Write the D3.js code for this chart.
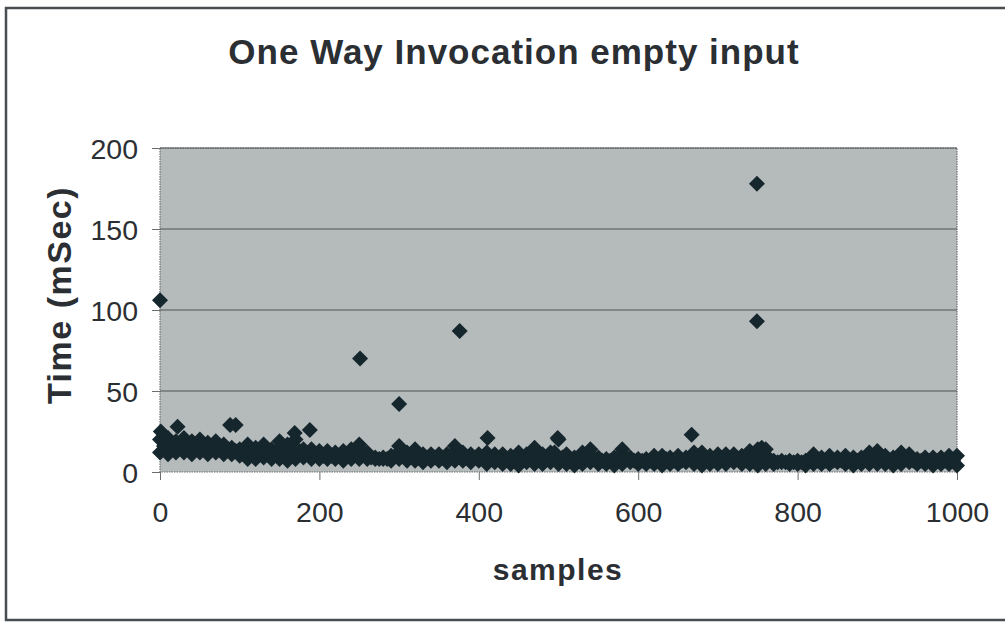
<!DOCTYPE html>
<html>
<head>
<meta charset="utf-8">
<script src="https://cdn.jsdelivr.net/npm/d3@7"></script>
<style>
  body { margin: 0; background: #fff; }
  text { font-family: "Liberation Sans", Arial, sans-serif; fill: #2b2f33; }
</style>
</head>
<body>
<div id="chart"></div>
<script>
// Chart data
const title = 'One Way Invocation empty input';
const xLabel = 'samples';
const yLabel = 'Time (mSec)';
const xTicks = [0, 200, 400, 600, 800, 1000];
const yTicks = [0, 50, 100, 150, 200];

// dense band: upper edge, samples 0,10,...,1000
const topTimes = [20, 21, 19, 21, 19, 20, 18, 19, 17, 15,
  14, 17, 15, 17, 14, 19, 17, 20, 14, 14,
  13, 13, 12, 13, 14, 17, 12, 9, 9, 10,
  16, 12, 14, 11, 11, 11, 11, 16, 12, 11,
  11, 12, 11, 11, 10, 12, 11, 15, 11, 12,
  20, 11, 9, 12, 14, 9, 8, 9, 14, 9,
  8, 8, 10, 10, 9, 10, 9, 12, 12, 10,
  11, 11, 11, 10, 13, 14, 14, 7, 7, 7,
  7, 7, 11, 9, 10, 9, 10, 9, 9, 12,
  13, 10, 9, 12, 11, 8, 9, 9, 9, 10, 10];

// dense band: middle, samples 5,15,...,995
const midTimes = [16, 16, 16, 16, 15, 16, 15, 15, 14, 13,
  12, 12, 12, 12, 12, 13, 13, 13, 11, 11,
  10, 10, 10, 10, 12, 12, 9, 8, 8, 10,
  10, 10, 9, 9, 9, 9, 10, 10, 9, 9,
  8, 8, 8, 8, 8, 8, 10, 9, 8, 12,
  9, 7, 8, 9, 8, 7, 7, 9, 9, 7,
  7, 7, 7, 8, 7, 7, 8, 8, 8, 8,
  8, 8, 8, 9, 9, 10, 8, 6, 6, 6,
  6, 8, 7, 7, 7, 7, 7, 7, 8, 9,
  8, 7, 8, 8, 7, 7, 7, 7, 7, 7];

// dense band: lower edge, samples 0,10,...,1000
const lowTimes = [12, 11, 12, 12, 11, 12, 11, 12, 11, 11, 10,
  8, 8, 9, 8, 8, 7, 8, 9, 8, 8, 8, 8, 7, 8, 8, 8, 8, 8, 7, 8,
  7, 7, 6, 7, 7, 6, 7, 7, 6, 7,
  5, 6, 5, 5, 4, 6, 5, 5, 6, 5,
  5, 4, 5, 6, 5, 5, 4, 5, 6, 5,
  5, 5, 4, 5, 5, 6, 5, 4, 5, 5,
  5, 6, 5, 5, 4, 5, 5, 6, 5, 5,
  4, 5, 5, 5, 6, 5, 4, 5, 5, 5,
  5, 4, 5, 6, 5, 5, 4, 5, 5, 4];

// isolated points
const outlierSamples = [0, 1, 22, 88, 95, 169, 188, 251, 300, 376, 411, 499, 667, 749, 749, 755];
const outlierTimes = [106, 25, 28, 29, 29, 24, 26, 70, 42, 87, 21, 21, 23, 178, 93, 15];

const w = 1005;
const h = 623;
const margin = { top: 148, right: 48, bottom: 151, left: 160 };

const points = [];
topTimes.forEach((t, i) => points.push({ s: i * 10, t }));
lowTimes.forEach((t, i) => points.push({ s: i * 10, t }));
midTimes.forEach((t, i) => points.push({ s: 5 + i * 10, t }));
outlierSamples.forEach((s, i) => points.push({ s, t: outlierTimes[i] }));

const xScale = d3.scaleLinear().domain([0, 1000]).range([margin.left, w - margin.right]);
const yScale = d3.scaleLinear().domain([0, 200]).range([h - margin.bottom, margin.top]);

const svg = d3.select('#chart').append('svg')
  .attr('width', w)
  .attr('height', h);

// outer chart border
svg.append('rect')
  .attr('x', 6).attr('y', 8)
  .attr('width', 1010).attr('height', 612)
  .attr('fill', 'none')
  .attr('stroke', '#4a4d50')
  .attr('stroke-width', 2.5);

// plot area
svg.append('rect')
  .attr('x', margin.left).attr('y', margin.top)
  .attr('width', w - margin.left - margin.right)
  .attr('height', h - margin.top - margin.bottom)
  .attr('fill', '#b5babb')
  .attr('stroke', '#6a6e70')
  .attr('stroke-width', 1.2)
  .attr('stroke-dasharray', '1.5 1');

// gridlines
svg.append('g')
  .selectAll('line')
  .data(yTicks.slice(1))
  .join('line')
  .attr('x1', margin.left).attr('x2', w - margin.right)
  .attr('y1', d => yScale(d)).attr('y2', d => yScale(d))
  .attr('stroke', '#4e5355')
  .attr('stroke-width', 1);

// axes
const xAxis = d3.axisBottom(xScale).tickValues(xTicks).tickFormat(d3.format('d')).tickSize(8).tickPadding(22);
const yAxis = d3.axisLeft(yScale).tickValues(yTicks).tickFormat(d3.format('d')).tickSize(8).tickPadding(14);

svg.append('g')
  .classed('x-axis', true)
  .attr('transform', `translate(0, ${h - margin.bottom})`)
  .call(xAxis);

svg.append('g')
  .classed('y-axis', true)
  .attr('transform', `translate(${margin.left}, 0)`)
  .call(yAxis);

svg.selectAll('.domain').remove();
svg.selectAll('.tick line').attr('stroke', '#6a6e70');
svg.selectAll('.tick text')
  .attr('font-size', 28.5)
  .attr('font-family', '"Liberation Sans", Arial, sans-serif')
  .attr('fill', '#2b2f33');
svg.selectAll('.y-axis .tick text').attr('dy', '0.36em');

// markers
const diamond = d3.symbol().type(d3.symbolSquare).size(128);
svg.append('g')
  .selectAll('path')
  .data(points)
  .join('path')
  .attr('d', diamond)
  .attr('transform', d => `translate(${xScale(d.s)}, ${yScale(d.t)}) rotate(45)`)
  .attr('fill', '#15262d');

// titles
svg.append('text')
  .attr('x', 514).attr('y', 64)
  .attr('text-anchor', 'middle')
  .attr('font-size', 35)
  .attr('letter-spacing', 1)
  .attr('font-weight', 'bold')
  .text(title);

svg.append('text')
  .attr('x', 558).attr('y', 580)
  .attr('text-anchor', 'middle')
  .attr('font-size', 30)
  .attr('letter-spacing', 1.5)
  .attr('font-weight', 'bold')
  .text(xLabel);

svg.append('text')
  .attr('transform', 'translate(71, 295) rotate(-90)')
  .attr('text-anchor', 'middle')
  .attr('font-size', 34)
  .attr('letter-spacing', 1.5)
  .attr('font-weight', 'bold')
  .text(yLabel);
</script>
</body>
</html>
